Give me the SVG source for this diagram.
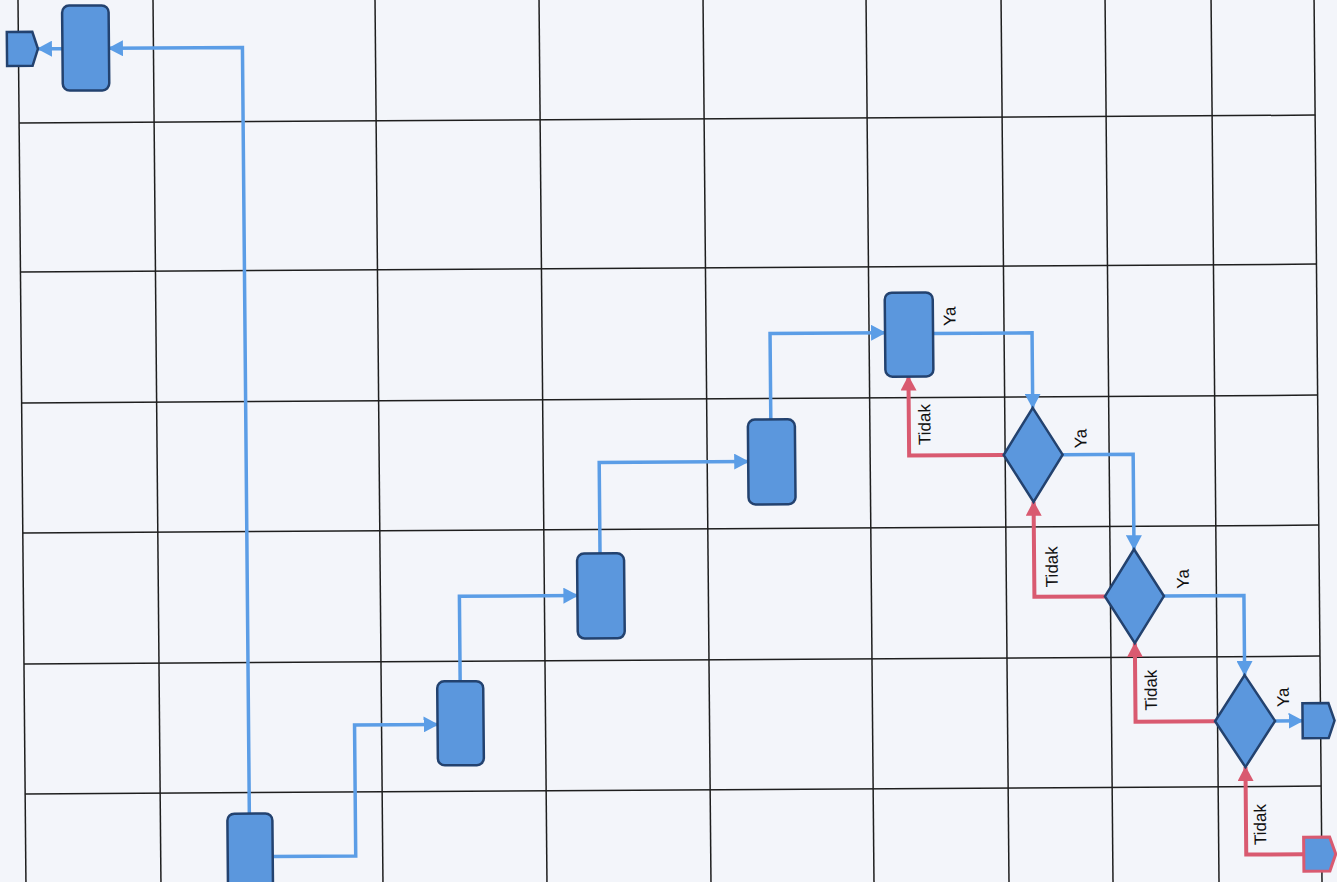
<svg xmlns="http://www.w3.org/2000/svg" width="1337" height="882" viewBox="0 0 1337 882">
  <defs>
    <marker id="ab" markerUnits="userSpaceOnUse" markerWidth="15" markerHeight="16" refX="14" refY="8" orient="auto">
      <path d="M0,0 L15,8 L0,16 z" fill="#5b9de6"/>
    </marker>
    <marker id="ar" markerUnits="userSpaceOnUse" markerWidth="15" markerHeight="16" refX="14" refY="8" orient="auto">
      <path d="M0,0 L15,8 L0,16 z" fill="#d95a70"/>
    </marker>
    <style>
      .grid line { stroke: #1e1e1e; stroke-width: 1.5; }
      .proc { fill: #5b97dd; stroke: #23426f; stroke-width: 2.5; }
      .term-red { fill: #5b97dd; stroke: #d95a70; stroke-width: 3; }
      .cb { fill: none; stroke: #5b9de6; stroke-width: 3.5; marker-end: url(#ab); }
      .cr { fill: none; stroke: #d95a70; stroke-width: 4; marker-end: url(#ar); }
      .lbl { font-family: "Liberation Sans", Arial, sans-serif; font-size: 17px; fill: #111; text-anchor: middle; dominant-baseline: central; }
    </style>
  </defs>
  <rect width="1337" height="882" fill="#f3f5fa"/>
  <g transform="matrix(1 -0.006 0.009 1 0 0)">
    <g id="grid" class="grid">
      <line x1="18" y1="-10" x2="18" y2="900"/>
      <line x1="153" y1="-10" x2="153" y2="900"/>
      <line x1="375" y1="-10" x2="375" y2="900"/>
      <line x1="539" y1="-10" x2="539" y2="900"/>
      <line x1="703" y1="-10" x2="703" y2="900"/>
      <line x1="866" y1="-10" x2="866" y2="900"/>
      <line x1="1001" y1="-10" x2="1001" y2="900"/>
      <line x1="1105" y1="-10" x2="1105" y2="900"/>
      <line x1="1211" y1="-10" x2="1211" y2="900"/>
      <line x1="1314" y1="-10" x2="1314" y2="900"/>
      <line x1="18" y1="123" x2="1314" y2="123"/>
      <line x1="18" y1="272" x2="1314" y2="272"/>
      <line x1="18" y1="403" x2="1314" y2="403"/>
      <line x1="18" y1="533" x2="1314" y2="533"/>
      <line x1="18" y1="664" x2="1314" y2="664"/>
      <line x1="18" y1="794" x2="1314" y2="794"/>
    </g>
    <g id="connectors">
      <polyline class="cb" points="242,815 242,49 108.5,49"/>
      <polyline class="cb" points="62,49 37.5,49"/>
      <polyline class="cb" points="265,858 348,858 348,727 431,727"/>
      <polyline class="cb" points="454,684 454,599 572,599"/>
      <polyline class="cb" points="595,557 595,466 744,466"/>
      <polyline class="cb" points="767,424 767,338 882,338"/>
      <polyline class="cb" points="930,339 1029,339 1029,414"/>
      <polyline class="cr" points="999.5,461 905,461 905,382"/>
      <polyline class="cb" points="1058.5,461 1129,461 1129,556"/>
      <polyline class="cr" points="1099.5,603 1029,603 1029,508"/>
      <polyline class="cb" points="1158.5,603 1238.5,603 1238.5,682.5"/>
      <polyline class="cr" points="1208.5,728.5 1129,728.5 1129,650"/>
      <polyline class="cb" points="1268.5,728.5 1296,728.5"/>
      <polyline class="cr" points="1296,862 1238.5,862 1238.5,774.5"/>
      <text class="lbl" transform="translate(947,322) rotate(-90)">Ya</text>
      <text class="lbl" transform="translate(921,430) rotate(-90)">Tidak</text>
      <text class="lbl" transform="translate(1077,445) rotate(-90)">Ya</text>
      <text class="lbl" transform="translate(1047,573) rotate(-90)">Tidak</text>
      <text class="lbl" transform="translate(1178,586) rotate(-90)">Ya</text>
      <text class="lbl" transform="translate(1145,697) rotate(-90)">Tidak</text>
      <text class="lbl" transform="translate(1277,705) rotate(-90)">Ya</text>
      <text class="lbl" transform="translate(1253,832) rotate(-90)">Tidak</text>
    </g>
    <g id="end-top-left"><polygon class="proc" points="6.5,32 32,32 37.5,49 32,66 6.5,66"/></g>
    <g id="process-top"><rect class="proc" x="62" y="6" width="46.5" height="85" rx="7"/></g>
    <g id="process-1"><rect class="proc" x="220" y="815" width="45" height="95" rx="7"/></g>
    <g id="process-2"><rect class="proc" x="431" y="684" width="46" height="84" rx="7"/></g>
    <g id="process-3"><rect class="proc" x="572" y="557" width="47" height="85" rx="7"/></g>
    <g id="process-4"><rect class="proc" x="744" y="424" width="47" height="85" rx="7"/></g>
    <g id="process-5"><rect class="proc" x="882" y="298" width="48" height="84" rx="7"/></g>
    <g id="decision-1"><polygon class="proc" points="1029,414 1058.5,461 1029,508 999.5,461"/></g>
    <g id="decision-2"><polygon class="proc" points="1129,556 1158.5,603 1129,650 1099.5,603"/></g>
    <g id="decision-3"><polygon class="proc" points="1238.5,682.5 1268.5,728.5 1238.5,774.5 1208.5,728.5"/></g>
    <g id="end-right"><polygon class="proc" points="1296,711 1322,711 1328,728.5 1322,746 1296,746"/></g>
    <g id="start-right"><polygon class="term-red" points="1296,845 1322,845 1328,862 1322,879 1296,879"/></g>
  </g>
</svg>
